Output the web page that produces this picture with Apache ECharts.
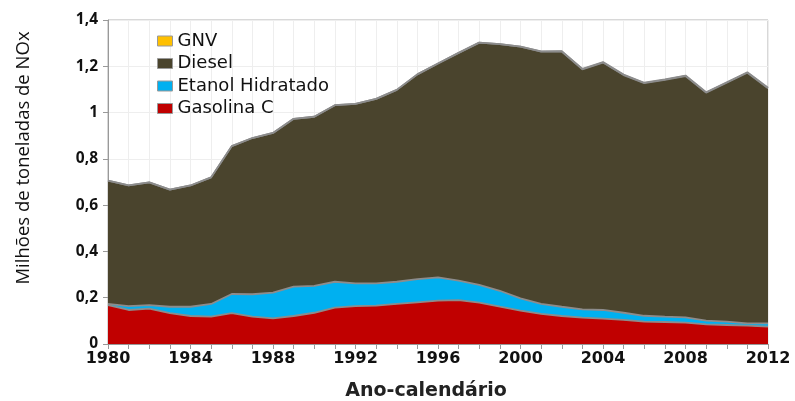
<!DOCTYPE html>
<html>
<head>
<meta charset="utf-8">
<script src="https://cdn.jsdelivr.net/npm/echarts@6/dist/echarts.min.js"></script>
<style>
html, body { margin: 0; padding: 0; background: #fff; }
#chart { width: 795px; height: 401px; }
</style>
</head>
<body>
<div id="chart"></div>
<script>
var anos = ['1980', '1981', '1982', '1983', '1984', '1985', '1986', '1987', '1988', '1989', '1990',
    '1991', '1992', '1993', '1994', '1995', '1996', '1997', '1998', '1999', '2000',
    '2001', '2002', '2003', '2004', '2005', '2006', '2007', '2008', '2009', '2010', '2011', '2012'];
var gasolina = [0.168, 0.147, 0.153, 0.133, 0.121, 0.118, 0.133, 0.118, 0.111, 0.121, 0.135,
    0.157, 0.164, 0.166, 0.173, 0.180, 0.187, 0.190, 0.179, 0.161, 0.144,
    0.130, 0.121, 0.114, 0.110, 0.104, 0.097, 0.095, 0.092, 0.085, 0.082, 0.079, 0.075];
var etanol = [0.005, 0.017, 0.015, 0.028, 0.040, 0.055, 0.083, 0.097, 0.111, 0.127, 0.116,
    0.112, 0.098, 0.096, 0.096, 0.100, 0.101, 0.084, 0.076, 0.069, 0.053,
    0.043, 0.040, 0.036, 0.037, 0.031, 0.025, 0.023, 0.023, 0.016, 0.015, 0.010, 0.014];
var diesel = [0.533, 0.521, 0.530, 0.506, 0.524, 0.547, 0.639, 0.675, 0.690, 0.725, 0.731,
    0.763, 0.776, 0.797, 0.829, 0.885, 0.924, 0.984, 1.047, 1.066, 1.088,
    1.090, 1.103, 1.037, 1.069, 1.027, 1.005, 1.023, 1.043, 0.985, 1.032, 1.083, 1.016];
var gnv = [0, 0, 0, 0, 0, 0, 0, 0, 0, 0, 0,
    0, 0, 0, 0, 0, 0, 0, 0, 0, 0,
    0.001, 0.001, 0.002, 0.002, 0.002, 0.002, 0.002, 0.002, 0.002, 0.002, 0.002, 0.002];

var myChart = echarts.init(document.getElementById('chart'));

function serie(nome, valores, cor) {
    return {
        name: nome,
        type: 'line',
        stack: 'Total',
        showSymbol: false,
        data: valores,
        lineStyle: { color: '#8c8c8c', width: 1.8 },
        itemStyle: { color: cor, borderColor: '#8c8c8c' },
        areaStyle: { color: cor, opacity: 1 }
    };
}

var option = {
    animation: false,
    grid: {
        left: 108, right: 27, top: 20, bottom: 57,
        show: true, borderColor: '#b0b0b0', borderWidth: 1
    },
    // titulos dos eixos como texto solto, na mesma posicao do original
    graphic: [{
        type: 'text',
        x: 24, y: 158,
        rotation: Math.PI / 2,
        style: {
            text: 'Milhões de toneladas de NOx',
            fontFamily: 'Open Sans', fontSize: 18.5, fill: '#111',
            align: 'center', verticalAlign: 'middle'
        }
    }, {
        type: 'text',
        x: 426, y: 391,
        style: {
            text: 'Ano-calendário',
            fontFamily: 'DejaVu Sans', fontSize: 19, fontWeight: 'bold', fill: '#222',
            align: 'center', verticalAlign: 'middle'
        }
    }],
    legend: {
        orient: 'vertical',
        left: 157, top: 32,
        padding: 0,
        itemWidth: 15, itemHeight: 10, itemGap: 4.5,
        icon: 'rect',
        data: ['GNV', 'Diesel', 'Etanol Hidratado', 'Gasolina C'],
        textStyle: { fontFamily: 'DejaVu Sans', fontSize: 18, color: '#111' },
        itemStyle: { borderColor: '#999', borderWidth: 1 }
    },
    xAxis: {
        type: 'category',
        boundaryGap: false,
        data: anos,
        axisLine: { lineStyle: { color: '#999' } },
        axisTick: { show: true, interval: 0, length: 5, lineStyle: { color: '#999' } },
        splitLine: { show: true, interval: 0, lineStyle: { color: '#eeeeee' } },
        axisLabel: {
            interval: 3,
            fontFamily: 'DejaVu Sans', fontSize: 16, fontWeight: 'bold', color: '#111', margin: 7
        }
    },
    yAxis: {
        type: 'value',
        min: 0, max: 1.4, interval: 0.2,
        axisLine: { show: true, lineStyle: { color: '#999' } },
        axisTick: { show: true, length: 5, lineStyle: { color: '#999' } },
        splitLine: { show: true, lineStyle: { color: '#eeeeee' } },
        axisLabel: {
            fontFamily: 'Open Sans', fontSize: 15.5, fontWeight: 'bold', color: '#111', margin: 10,
            formatter: function (v) { return String(Math.round(v * 10) / 10).replace('.', ','); }
        }
    },
    series: [
        serie('Gasolina C', gasolina, '#C00000'),
        serie('Etanol Hidratado', etanol, '#00B0F0'),
        serie('Diesel', diesel, '#4A442D'),
        serie('GNV', gnv, '#FFC000')
    ]
};
myChart.setOption(option);
</script>
</body>
</html>
